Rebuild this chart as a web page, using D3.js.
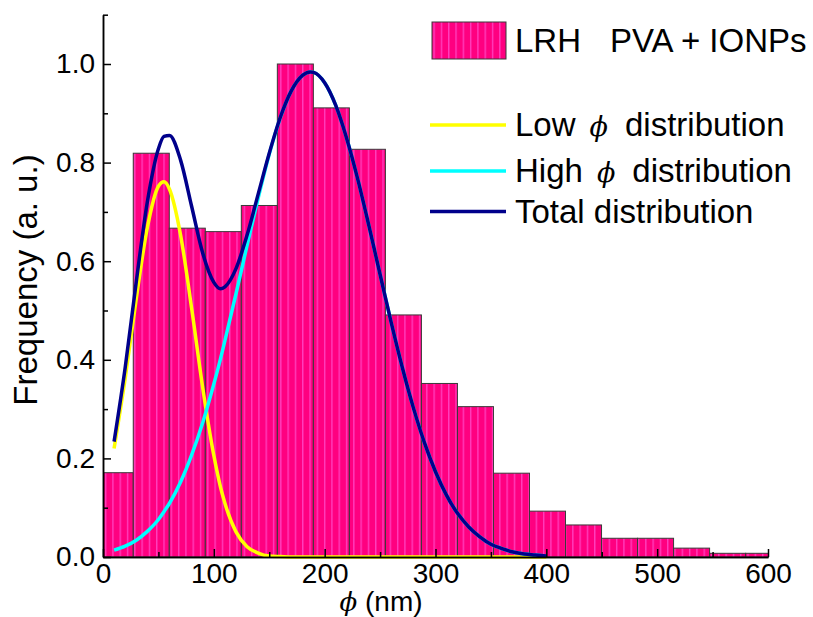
<!DOCTYPE html>
<html>
<head>
<meta charset="utf-8">
<script src="https://cdn.jsdelivr.net/npm/d3@7.9.0/dist/d3.min.js"></script>
<style>
  body { margin: 0; background: #fff; }
  svg { display: block; font-family: "Liberation Sans", Arial, sans-serif; }
  .phi { font-family: "DejaVu Serif", serif; font-style: italic; }
</style>
</head>
<body>
<svg id="chart" width="813" height="617"></svg>
<script>
// histogram bins (nm), left edges + final right edge
const binEdges = [-5.2, 27.3, 59.8, 92.3, 124.8, 157.3, 189.8, 222.3, 254.8, 287.3,
  319.8, 352.3, 384.8, 417.3, 449.8, 482.3, 514.8, 547.3, 579.8, 612.3];
const binValues = [0.171, 0.819, 0.667, 0.660, 0.713, 1.0, 0.911, 0.827, 0.491, 0.352,
  0.305, 0.170, 0.093, 0.065, 0.038, 0.038, 0.018, 0.0075, 0.0075];

// fitted curves
const phiX = [10, 20, 30, 40, 50, 55, 60, 70, 80, 90, 100, 106, 110, 120, 130, 140, 150, 160,
  170, 180, 187, 190, 200, 210, 220, 230, 240, 250, 260, 270, 280, 290, 300, 310, 320, 330,
  340, 350, 360, 370, 380, 390, 400];
const lowDist = [0.220, 0.362, 0.524, 0.668, 0.752, 0.761, 0.746, 0.653, 0.504, 0.343, 0.206,
  0.142, 0.109, 0.051, 0.021, 0.008, 0.002, 0.001,
  0, 0, 0, 0, 0, 0, 0, 0, 0, 0, 0, 0, 0, 0, 0, 0, 0, 0, 0, 0, 0, 0, 0, 0, 0];
const highDist = [0.014, 0.022, 0.034, 0.052, 0.076, 0.092, 0.109, 0.152, 0.207, 0.273, 0.351,
  0.402, 0.439, 0.534, 0.632, 0.728, 0.817, 0.891, 0.946, 0.977, 0.984, 0.983, 0.962, 0.916,
  0.848, 0.765, 0.671, 0.573, 0.476, 0.385, 0.303, 0.232, 0.173, 0.125, 0.088, 0.061, 0.041,
  0.026, 0.017, 0.010, 0.006, 0.004, 0.002];
const totalDist = [0.234, 0.384, 0.558, 0.720, 0.828, 0.853, 0.855, 0.805, 0.711, 0.616, 0.557,
  0.544, 0.548, 0.585, 0.653, 0.736, 0.819, 0.892, 0.946, 0.977, 0.984, 0.983, 0.962, 0.916,
  0.848, 0.765, 0.671, 0.573, 0.476, 0.385, 0.303, 0.232, 0.173, 0.125, 0.088, 0.061, 0.041,
  0.026, 0.017, 0.010, 0.006, 0.004, 0.002];

const xTicks = [0, 100, 200, 300, 400, 500, 600];
const xMinor = [50, 150, 250, 350, 450, 550];
const yTicks = [0, 0.2, 0.4, 0.6, 0.8, 1.0];
const yMinor = [0.1, 0.3, 0.5, 0.7, 0.9, 1.1];

const svg = d3.select('#chart');
const x = d3.scaleLinear().domain([0, 600]).range([103, 768]);
const y = d3.scaleLinear().domain([0, 1.1]).range([557, 14.7]);

const defs = svg.append('defs');
const pat = defs.append('pattern')
  .attr('id', 'stripes')
  .attr('patternUnits', 'userSpaceOnUse')
  .attr('width', 7.3).attr('height', 10);
pat.append('rect').attr('width', 7.3).attr('height', 10).attr('fill', '#ff0080');
pat.append('rect').attr('x', 3).attr('width', 1).attr('height', 10).attr('fill', '#ff55d5');

defs.append('clipPath').attr('id', 'plot')
  .append('rect')
  .attr('x', x(0)).attr('y', 0)
  .attr('width', x(600) - x(0)).attr('height', y(0));

// bars
svg.append('g').attr('clip-path', 'url(#plot)')
  .selectAll('rect')
  .data(binValues)
  .join('rect')
  .attr('x', (d, i) => x(binEdges[i]))
  .attr('width', (d, i) => x(binEdges[i + 1]) - x(binEdges[i]))
  .attr('y', d => y(d))
  .attr('height', d => y(0) - y(d))
  .attr('fill', 'url(#stripes)')
  .attr('stroke', '#3a3a3a')
  .attr('stroke-width', 1);

// curves
const line = (vals) => d3.line()
  .x((d, i) => x(phiX[i]))
  .y(d => y(d))
  .curve(d3.curveMonotoneX)(vals);

const curves = [
  { vals: lowDist, color: '#ffff00' },
  { vals: highDist, color: '#00ffff' },
  { vals: totalDist, color: '#00008b' },
];
curves.forEach(c => {
  svg.append('path')
    .attr('d', line(c.vals))
    .attr('fill', 'none')
    .attr('stroke', c.color)
    .attr('stroke-width', 3.5);
});

// axes
const axisStyle = g => {
  g.selectAll('path, line').attr('stroke', '#000').attr('stroke-width', 1.5);
  g.selectAll('text').attr('fill', '#000').style('font-size', '28px')
    .style('font-family', '"Liberation Sans", Arial, sans-serif');
};

svg.append('g')
  .attr('transform', `translate(0,${y(0)})`)
  .call(d3.axisBottom(x).tickValues(xMinor).tickSize(-5).tickSizeOuter(0).tickFormat(''))
  .call(axisStyle);
svg.append('g')
  .attr('transform', `translate(0,${y(0)})`)
  .call(d3.axisBottom(x).tickValues(xTicks).tickSize(-8).tickSizeOuter(0).tickPadding(6))
  .call(axisStyle);

svg.append('g')
  .attr('transform', `translate(${x(0)},0)`)
  .call(d3.axisLeft(y).tickValues(yMinor).tickSize(-5).tickSizeOuter(0).tickFormat(''))
  .call(axisStyle);
svg.append('g')
  .attr('transform', `translate(${x(0)},0)`)
  .call(d3.axisLeft(y).tickValues(yTicks).tickSize(-8).tickSizeOuter(0).tickPadding(8)
    .tickFormat(d3.format('.1f')))
  .call(axisStyle);

// axis titles
svg.append('text')
  .attr('transform', 'translate(37,280) rotate(-90)')
  .attr('text-anchor', 'middle')
  .style('font-size', '33px')
  .text('Frequency (a. u.)');

const xt = svg.append('text')
  .attr('x', 381).attr('y', 611)
  .attr('text-anchor', 'middle')
  .style('font-size', '28px');
xt.append('tspan').attr('class', 'phi').style('font-size', '26px').text('ϕ');
xt.append('tspan').text(' (nm)');

// legend
const lg = svg.append('g').style('font-size', '33px');
lg.append('rect')
  .attr('x', 432).attr('y', 22).attr('width', 74).attr('height', 37)
  .attr('fill', 'url(#stripes)').attr('stroke', '#3a3a3a').attr('stroke-width', 1);
const lt = lg.append('text').attr('x', 515).attr('y', 52);
lt.append('tspan').text('LRH');
lt.append('tspan').attr('x', 610).text('PVA + IONPs');

const lineItems = [
  { pre: 'Low', post: 'distribution', color: '#ffff00', y: 125 },
  { pre: 'High', post: 'distribution', color: '#00ffff', y: 171 },
  { pre: 'Total distribution', post: null, color: '#00008b', y: 211.5 },
];
lineItems.forEach(it => {
  lg.append('line')
    .attr('x1', 430).attr('x2', 506)
    .attr('y1', it.y).attr('y2', it.y)
    .attr('stroke', it.color).attr('stroke-width', 3.5);
  const t = lg.append('text').attr('x', 515).attr('y', it.y + 11)
    .style('white-space', 'pre');
  t.append('tspan').text(it.pre);
  if (it.post !== null) {
    t.append('tspan').attr('class', 'phi').attr('dx', 14).style('font-size', '27px').text('ϕ');
    t.append('tspan').attr('dx', 17).text(it.post);
  }
});
</script>
</body>
</html>
